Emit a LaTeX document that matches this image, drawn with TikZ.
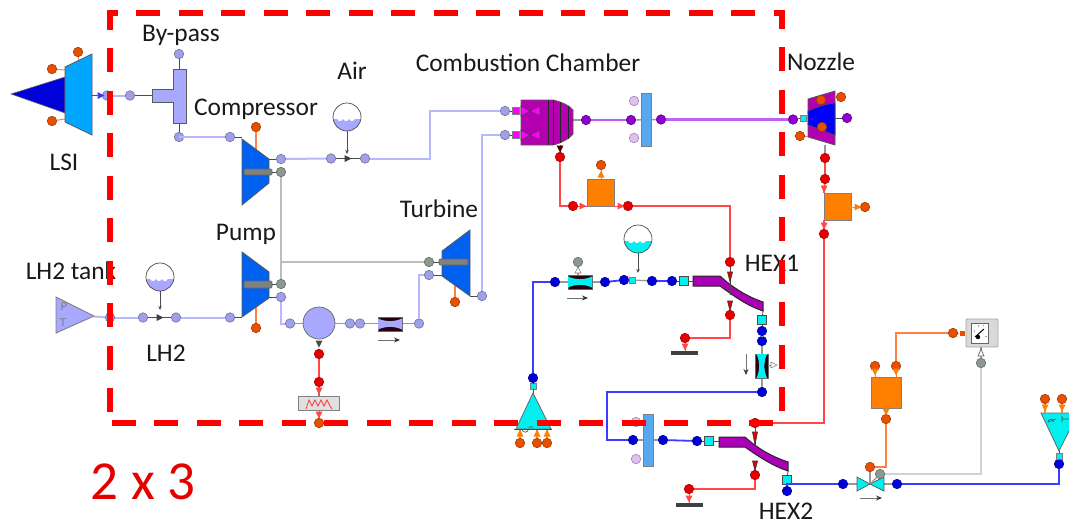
\documentclass[tikz,border=0pt]{standalone}
\usepackage{fontspec}
\setmainfont{Carlito}
\usetikzlibrary{arrows.meta}
\definecolor{lil}{HTML}{B8B8FF}
\definecolor{lilp}{HTML}{A0A0E8}
\definecolor{blu}{HTML}{3C3CFF}
\definecolor{blup}{HTML}{0000D8}
\definecolor{rd}{HTML}{FF4848}
\definecolor{rdp}{HTML}{E80000}
\definecolor{org}{HTML}{FF8044}
\definecolor{orgp}{HTML}{E85000}
\definecolor{pur}{HTML}{C060F0}
\definecolor{purp}{HTML}{8C00D0}
\definecolor{gry}{HTML}{B8C0BC}
\definecolor{gryp}{HTML}{8C9890}
\definecolor{pale}{HTML}{E0C0F0}
\definecolor{mag}{HTML}{B400B0}
\definecolor{hot}{HTML}{FF00FF}
\definecolor{cy}{HTML}{00F0F0}
\definecolor{turb}{HTML}{0060F0}
\definecolor{tank}{HTML}{A8A8FF}
\definecolor{box}{HTML}{FF8000}
\definecolor{panel}{HTML}{58A8F0}
\definecolor{hexc}{HTML}{AC00B8}
\tikzset{
  prt/.style={circle,draw=#1!70!black,line width=0.6,fill=#1,minimum size=9.5,inner sep=0},
  sqc/.style={rectangle,draw=black!70,line width=0.7,fill=cy,minimum size=9,inner sep=0},
  sqs/.style={rectangle,draw=black!50,line width=0.5,fill=cy,minimum size=6,inner sep=0},
  sqm/.style={rectangle,draw=black!50,line width=0.5,fill=hot,minimum size=7,inner sep=0},
  stub/.style={draw=black!70,line width=0.8},
  gstub/.style={draw=black!40,line width=1.3},
  lline/.style={draw=lil,line width=2},
  bline/.style={draw=blu,line width=1.8},
  rline/.style={draw=rd,line width=1.7},
  oline/.style={draw=org,line width=1.6},
  pline/.style={draw=pur,line width=2.2},
  gline/.style={draw=gry,line width=1.8},
  comp/.style={draw=black!65,line width=0.8},
  flowarrow/.style={draw=black!55,line width=1,-{Stealth[length=6pt,width=5pt,color=black!80]}},
  lab/.style={font=\fontsize{25.4}{27}\selectfont,text=black!90,inner sep=0},
  redd/.style={draw=red,line width=6,dash pattern=on 24pt off 18.5pt},
}
\newcommand{\Pt}[4]{\node[prt=#1] (#2) at (#3,#4) {};}
\newcommand{\Tr}[4]{\fill[#4,rotate around={#3:(#1,#2)}] (#1-3.5,#2-3.5)--(#1+3.5,#2)--(#1-3.5,#2+3.5)--cycle;}
\newcommand{\Sens}[4]{%
  \begin{scope}\clip (#1,#2) circle (14);
  \fill[#3] (#1-15,#2+2) -- (#1-10,#2+2) .. controls (#1-8,#2+5) and (#1-6,#2+5) .. (#1-4,#2+2) .. controls (#1-2,#2+5) and (#1,#2+5) .. (#1+2,#2+2) .. controls (#1+4,#2+5) and (#1+6,#2+5) .. (#1+8,#2+2) -- (#1+15,#2+2) -- (#1+15,#2+15) -- (#1-15,#2+15) -- cycle;
  \end{scope}
  \draw[black!70,line width=0.7] (#1,#2) circle (14);
  \coordinate (#4) at (#1,#2+14);
}
\begin{document}
\begin{tikzpicture}[x=1pt,y=-1pt]
\path[use as bounding box,clip] (0,0) rectangle (1069,523);
\fill[white] (0,0) rectangle (1069,523);

% ---------- ports ----------
\Pt{orgp}{lsit}{78}{52}\Pt{orgp}{lsia}{52}{69}\Pt{orgp}{lsib}{52}{121}
\Pt{lilp}{lsiout}{107}{95.5}\Pt{lilp}{bpin}{130}{95.5}
\Pt{lilp}{bptop}{179}{54}\Pt{lilp}{bpbot}{179}{137}
\Pt{lilp}{cin}{230}{137}\Pt{lilp}{cout}{281}{159}\Pt{gryp}{cshaft}{281}{172}\Pt{orgp}{cq}{256}{127}
\Pt{lilp}{ain}{331}{158.5}\Pt{lilp}{aout}{365}{158.5}
\Pt{lilp}{cca}{505}{111}\Pt{lilp}{ccb}{505}{135}
\Pt{lilp}{tout}{482}{296}\Pt{gryp}{tshaft}{429}{262}\Pt{lilp}{tin}{429}{275}\Pt{orgp}{tq}{455}{302}
\Pt{gryp}{pshaft}{281}{284}\Pt{lilp}{pout}{281}{297}\Pt{orgp}{pq}{256}{328}\Pt{lilp}{pin}{230}{317.5}
\Pt{lilp}{lout}{176}{317.5}\Pt{lilp}{lin}{143}{317.5}\Pt{lilp}{tkout}{110}{317.5}
\Pt{lilp}{hin}{290}{323.5}\Pt{lilp}{hout}{350}{323.5}\Pt{lilp}{vin}{360}{323.5}\Pt{lilp}{vout}{419}{323.5}
\Pt{rdp}{hq}{319}{354}\Pt{rdp}{heat}{319}{382}\Pt{orgp}{heatq}{319}{423}
\Pt{purp}{ccout}{586}{120}\Pt{purp}{mixin}{631}{120}\Pt{purp}{mixout}{661}{119.5}\Pt{purp}{nin}{793}{119.5}\Pt{purp}{nout}{847}{118}
\Pt{pale}{mixa}{634}{101}\Pt{pale}{mixb}{634}{138}
\Pt{rdp}{ccq}{560}{157}\Pt{rdp}{ba}{573}{206}\Pt{rdp}{bb}{628}{206}\Pt{orgp}{bq}{601}{165}
\Pt{orgp}{nb}{841}{97}\Pt{orgp}{nd}{800}{136}
\Pt{rdp}{nq}{825}{158}\Pt{rdp}{ne}{825}{179}\Pt{rdp}{nf}{824}{234}\Pt{orgp}{ng}{865}{207}
\Pt{rdp}{hxa}{730}{262}\Pt{rdp}{hxb}{730}{315}\Pt{rdp}{gnda}{685}{338}
\Pt{blup}{hxin}{672}{281}\Pt{blup}{sout}{652}{281}\Pt{blup}{sin}{624}{280}\Pt{blup}{fout}{605}{282}\Pt{blup}{fin}{555}{282}
\Pt{gryp}{fq}{578}{262}
\Pt{blup}{ptop}{533}{378}\Pt{orgp}{pa}{520}{443}\Pt{orgp}{pbb}{537}{443}\Pt{orgp}{pc}{547}{443}
\Pt{blup}{hxo}{762}{331}\Pt{blup}{vvin}{762}{341}\Pt{blup}{vvout}{762}{392}
\Pt{blup}{m2in}{633}{440}\Pt{blup}{m2out}{663}{440}\Pt{blup}{h2in}{697}{441}
\Pt{pale}{m2a}{636}{422}\Pt{pale}{m2b}{636}{459}
\Pt{rdp}{h2q}{755}{423}\Pt{rdp}{h2r}{755}{475}\Pt{rdp}{gndb}{689}{489}
\Pt{blup}{h2o}{787}{491}\Pt{blup}{tvin}{843}{484}\Pt{blup}{tvout}{897}{484}\Pt{blup}{endp}{1059}{464}
\Pt{orgp}{tvq}{870}{467}
\Pt{orgp}{ctl}{886}{419}\Pt{orgp}{cta}{875}{366}\Pt{orgp}{ctb}{896}{366}
\Pt{orgp}{gin}{953}{333}\Pt{gryp}{gq}{981}{363}
\Pt{orgp}{ea}{1045}{399}\Pt{orgp}{eb}{1062}{399}\Pt{orgp}{ec}{1079}{399}

% ---------- named squares ----------
\node[sqm] (sqa) at (516,111) {};
\node[sqm] (sqb) at (516,135) {};
\node[sqs] (sqn) at (803,118) {};
\node[sqs] (sqs1) at (632,280) {};
\node[sqc] (sqh1) at (684,281) {};
\node[sqc] (sqh1b) at (762,320) {};
\node[sqs] (sqp) at (533,386) {};
\node[sqc] (sqh2) at (709,441) {};
\node[sqc] (sqh2b) at (787,480) {};
\node[sqs] (sqe) at (1059,456) {};
\node[rectangle,fill=orgp,minimum size=5,inner sep=0] (sqg) at (962,333) {};

% ---------- coordinates on components ----------
\coordinate (bypL) at (152,95.5);
\coordinate (cpL) at (242,137);
\coordinate (cpR) at (269,159);
\coordinate (cpS) at (272,172);
\coordinate (ppL) at (242,317.5);
\coordinate (ppR) at (269,297);
\coordinate (ppS) at (272,284);
\coordinate (tbL) at (442,275);
\coordinate (tbS) at (439,262);
\coordinate (tbR) at (470,296);
\coordinate (bigL) at (303,323.5);
\coordinate (bigR) at (335,323.5);
\coordinate (ccR) at (573,120);
\coordinate (heatT) at (319,396);
\coordinate (turn1) at (430,158.5);
\coordinate (turn2) at (607,440);
\coordinate (tee) at (281,262);
\coordinate (tvc) at (870,484);

% ---------- connectors ----------
\draw[lline] (lsiout) -- (bpin);
\draw[stub] (bpin) -- (bypL);
\draw[stub] (bptop) -- (179,69);
\draw[stub] (bpbot) -- (179,123);
\draw[lline] (bpbot) |- (cin);
\draw[stub] (cin) -- (cpL);
\draw[stub] (cout) -- (cpR);
\draw[lline] (cout) -- (ain);
\draw[stub] (ain) -- (aout);
\draw[lline] (aout) -- (turn1) |- (cca);
\draw[lline] (tout) |- (ccb);
\draw[stub] (tout) -- (tbR);
\draw[stub] (tin) -- (tbL);
\draw[gline] (cshaft) -- (pshaft);
\draw[gline] (tee) -- (tshaft);
\draw[lline] (pout) |- (hin);
\draw[stub] (pout) -- (ppR);
\draw[stub] (pin) -- (ppL);
\draw[lline] (lout) -- (pin);
\draw[stub] (lin) -- (lout);
\draw[lline] (tkout) -- (lin);
\draw[lline] (94,316.5) -- (tkout);
\draw[gstub] (hin) -- (bigL);
\draw[gstub] (hout) -- (bigR);
\draw[gstub] (hout) -- (vin);
\draw[gstub] (vin) -- (vout);
\draw[lline] (vout) |- (tin);
\draw[rline] (hq) -- (heat);
\draw[gstub] (ccout) -- (ccR);
\draw[pline] (ccout) -- (mixin);
\draw[pline] (mixout) -- (nin);
\draw[gstub] (mixin) -- (mixout);
\draw[stub] (sqa) -- (cca);
\draw[stub] (sqb) -- (ccb);
\draw[stub] (nin) -- (sqn);
\draw[stub] (nout) -- (835,118);
\draw[rline] (ccq) |- (ba);
\draw[rline] (bb) -| (hxa);
\draw[rline] (hxb) |- (gnda);
\draw[rline] (nq) -- (ne);
\draw[gstub,line width=1.6] (nq) -- (825,145);
\draw[rline] (nf) |- (h2q);
\draw[rline] (h2r) |- (gndb);
\draw[bline] (fin) -| (ptop);
\draw[gstub] (fin) -- (fout);
\draw[bline] (fout) -- (sin);
\draw[gstub] (sin) -- (sqs1) -- (sout);
\draw[bline] (sout) -- (hxin);
\draw[stub] (hxin) -- (sqh1);
\draw[gstub] (hxo) -- (vvin);
\draw[gstub] (vvin) -- (vvout);
\draw[bline] (vvout) -| (turn2) -- (m2in);
\draw[gstub] (m2in) -- (m2out);
\draw[bline] (m2out) -- (h2in);
\draw[stub] (h2in) -- (sqh2);
\draw[stub] (sqh1b) -- (hxo);
\draw[stub] (ptop) -- (sqp);
\draw[bline] (h2o) |- (tvin);
\draw[stub] (h2o) -- (sqh2b);
\draw[gstub] (tvin) -- (tvout);
\draw[bline] (tvout) -| (endp);
\draw[stub] (endp) -- (sqe);
\draw[oline] (tvq) -| (ctl);
\draw[gstub] (tvq) -- (tvc);
\draw[oline] (ctb) |- (gin);
\draw[oline,line width=1] (lsit) -- (78,62);
\draw[oline,line width=1] (lsia) -- (65,70);
\draw[oline,line width=1] (lsib) -- (65,119);
\draw[oline] (cq) -- (256,150);
\draw[oline] (tq) -- (455,285);
\draw[oline] (pq) -- (256,306);

% ---------- LSI ----------
\path[fill=blup,draw=black!60,line width=.6] (11,94)--(65,77)--(65,113)--cycle;
\path[fill={rgb,255:red,0;green,166;blue,255},comp] (65,67)--(92,54)--(92,135)--(65,122)--cycle;
\draw[blu,line width=1.5] (92,95.5)--(lsiout);
\Tr{101}{95.5}{0}{blu}

% ---------- by-pass ----------
\path[fill=tank,comp] (173,69)--(186,69)--(186,123)--(173,123)--(173,102)--(152,102)--(152,89)--(173,89)--cycle;

% ---------- machines ----------
\path[fill=turb,comp] (242,139)--(269,159)--(269,183)--(242,205)--cycle;
\path[fill=gray,draw=black!60,line width=.6,rounded corners=1] (244,169) rectangle (272,175);
\path[fill=turb,comp] (242,252)--(269,272)--(269,298)--(242,317)--cycle;
\path[fill=gray,draw=black!60,line width=.6,rounded corners=1] (244,281) rectangle (272,288);
\path[fill=turb,comp] (442,251)--(470,230)--(470,296)--(442,276)--cycle;
\path[fill=gray,draw=black!60,line width=.6,rounded corners=1] (439,259) rectangle (468,265);
\draw[black!70,line width=.8] (tshaft) -- (tbS);
\draw[black!70,line width=.8] (cshaft) -- (cpS);
\draw[black!70,line width=.8] (pshaft) -- (ppS);

% ---------- sensors ----------
\Sens{347}{117}{tank}{sa}
\draw[stub,-{Stealth[length=4pt,width=3.5pt]}] (sa) -- (347,154);
\Tr{348}{158.5}{0}{black!75}
\Sens{160}{277}{tank}{sb}
\draw[stub,-{Stealth[length=4pt,width=3.5pt]}] (sb) -- (160,310);
\Tr{160}{317.5}{0}{black!75}
\Sens{638}{239}{cy}{sc}
\draw[stub,-{Stealth[length=4pt,width=3.5pt]}] (sc) -- (638,273);

% ---------- tank ----------
\path[fill=tank,draw=gray,line width=.9] (56,297)--(94,316)--(56,333)--cycle;
\node[font=\sffamily\fontsize{11}{11}\selectfont,text=black!55,inner sep=0] (tkP) at (64,307) {P};
\node[font=\sffamily\fontsize{11}{11}\selectfont,text=black!55,inner sep=0] (tkT) at (63,323) {T};

% ---------- heater + big circle ----------
\node[circle,draw=black!60,line width=.7,fill=tank,minimum size=32,inner sep=0] (big) at (319,323) {};
\Tr{319}{344}{-90}{black!70}
\draw[rline] (heat) -- (heatT);
\draw[rline,line width=1] (heatq) -- (319,410);
\path[fill=black!12,draw=gray,line width=.8] (298,396) rectangle (339,410);
\draw[red!80,line width=.7] (306,409)--(309,400)--(312,406)--(315,400)--(318,406)--(321,400)--(324,406)--(327,400)--(330,406)--(332,409);
\Tr{319}{391}{-90}{rd}
\Tr{319}{415}{-90}{rd}

% ---------- valve lilac ----------
\path[fill=black!80!purple,draw=black!60,line width=.5] (378,317) rectangle (402,331);
\path[fill=tank] (378,318.5) .. controls (386,322) and (394,322) .. (402,318.5) -- (402,329.5) .. controls (394,326) and (386,326) .. (378,329.5) -- cycle;
\draw[flowarrow] (378,340) -- (400,340);

% ---------- combustion chamber ----------
\path[fill=mag,comp] (521,100)--(553,100) .. controls (562,102) and (570,106) .. (573,110) -- (573,134) .. controls (570,138) and (562,143) .. (553,145) -- (521,145) -- cycle;
\draw[black!85,line width=.7] (548,100)--(548,145) (553,100)--(553,145) (560,102)--(560,143) (568,106)--(568,139);
\foreach \yy in {111,135}{
  \path[fill=hot,draw=black!75,line width=.6] (521,\yy-5)--(530,\yy)--(521,\yy+5)--cycle;
  \path[fill=hot,draw=black!75,line width=.6] (540,\yy-5)--(530,\yy)--(540,\yy+5)--cycle;
}
\draw[stub] (560,145)--(ccq);
\Tr{560}{149}{-90}{black!70!red}

% ---------- mixers ----------
\path[fill=panel,draw=black!50,line width=.8] (641,93) rectangle (651,146);
\path[fill=panel,draw=black!50,line width=.8] (643,414) rectangle (653,466);

% ---------- orange box 1 ----------
\path[fill=box,draw=black!50,line width=.8] (587,179) rectangle (614,206);
\draw[org,line width=1] (601,179) -- (bq);
\Tr{601}{174}{90}{orange}
\draw[rd,line width=1] (ba) -- (587,206);
\Tr{583}{206}{0}{rd}
\draw[rd,line width=1] (614,206) -- (bb);
\Tr{621}{206}{0}{rd}

% ---------- nozzle ----------
\path[fill=mag,comp] (808,99)--(835,91)--(835,145)--(808,137)--cycle;
\path[fill=blue,draw=black!70,line width=.7] (808,111) .. controls (817,107) and (826,104) .. (835,103) -- (835,135) .. controls (826,132) and (817,128) .. (808,125) -- cycle;
\draw[black!70,line width=.7] (821,95)--(821,106) (821,130)--(821,141);
\draw[oline,line width=1] (nd) -- (808,136);
\Pt{orgp}{na}{821}{100}\Pt{orgp}{nc}{822}{127}

% ---------- nozzle orange box ----------
\path[fill=box,draw=black!50,line width=.8] (824,193) rectangle (851,220);
\draw[rline] (ne) -- (824,193);
\draw[rline] (824,220) -- (nf);
\Tr{824}{189}{-90}{rd}
\Tr{824}{226}{-90}{rd}
\draw[org,line width=1] (851,207) -- (ng);
\Tr{858}{207}{0}{orange}

% ---------- HEX 1 ----------
\path[fill=hexc,draw=black!85,line width=1] (693,276)--(720,276) .. controls (733,288) and (748,297) .. (763,302) -- (763,311) .. controls (748,306) and (735,297) .. (720,286) --(693,286)--cycle;
\draw[stub] (sqh1) -- (693,281);
\draw[stub] (763,311) -- (sqh1b);
\draw[stub] (hxa)--(730,295);
\path[fill=rdp,draw=black!80,line width=.6] (727.5,272)--(732.5,272)--(730,282)--cycle;
\path[fill=rdp,draw=black!80,line width=.6] (727.5,301)--(732.5,301)--(730,311)--cycle;
\draw[rd,line width=1] (gnda) -- (685,351);
\Tr{685}{347}{-90}{rd}
\node[rectangle,fill=black!75,minimum width=27,minimum height=4,inner sep=0] (gnd1) at (684.5,353) {};

% ---------- flow valve top ----------
\path[fill=black!80!purple,draw=black!60,line width=.5] (568,275) rectangle (592,289);
\path[fill=cy] (568,276.5) .. controls (576,280) and (584,280) .. (592,276.5) -- (592,287.5) .. controls (584,284) and (576,284) .. (568,287.5) -- cycle;
\draw[gstub] (fq) -- (578,275);
\path[fill=white,draw=gray,line width=.6] (578,267)--(581,273)--(575,273)--cycle;
\draw[flowarrow] (567,298) -- (588,298);

% ---------- pump cyan ----------
\path[fill=cy,draw=black!60,line width=.8] (533,393)--(516,429)--(551,429)--cycle;
\draw[black!70,line width=.8] (514,429)--(552,429);
\draw[black!70,line width=.6] (522,429) arc (180:0:3.2) (528.5,427)--(533,427);
\draw[stub] (sqp) -- (533,393);
\draw[org,line width=1.2] (pa) -- (520,430);
\draw[org,line width=1.2] (pbb) -- (537,430);
\draw[org,line width=1.2] (pc) -- (547,430);
\Tr{520}{433}{90}{orange}\Tr{537}{433}{90}{orange}\Tr{547}{433}{90}{orange}

% ---------- vertical valve ----------
\path[fill=black!80!purple,draw=black!60,line width=.5] (755,354) rectangle (768,378);
\path[fill=cy] (756.5,354) .. controls (760,362) and (760,370) .. (756.5,378) -- (767,378) .. controls (763.5,370) and (763.5,362) .. (767,354) -- cycle;
\draw[gray,line width=.8] (768,365)--(773,365);
\path[fill=white,draw=gray,line width=.6] (771,362)--(771,368)--(777,365)--cycle;
\draw[flowarrow] (746,354) -- (746,375);

% ---------- HEX 2 ----------
\path[fill=hexc,draw=black!85,line width=1] (719,437)--(745,437) .. controls (758,449) and (773,457) .. (788,462) -- (788,471) .. controls (773,466) and (759,457) .. (745,447) --(719,447)--cycle;
\draw[stub] (sqh2) -- (719,441);
\draw[stub] (788,471) -- (sqh2b);
\draw[stub] (h2q)--(755,452);
\path[fill=rdp,draw=black!80,line width=.6] (752.5,432)--(757.5,432)--(755,445)--cycle;
\path[fill=rdp,draw=black!80,line width=.6] (752.5,461)--(757.5,461)--(755,471)--cycle;
\draw[rd,line width=1] (gndb) -- (689,503);
\Tr{689}{499}{-90}{rd}
\node[rectangle,fill=black!75,minimum width=27,minimum height=4,inner sep=0] (gnd2) at (689.5,505) {};

% ---------- end pump ----------
\path[fill=cy,draw=black!60,line width=.8] (1041,413)--(1078,413)--(1059,451)--cycle;
\draw[stub] (sqe) -- (1059,451);
\draw[org,line width=1.2] (ea) -- (1045,413);
\draw[org,line width=1.2] (eb) -- (1062,413);
\Tr{1045}{408}{-90}{orange}\Tr{1062}{408}{-90}{orange}
\draw[black!70,line width=.6] (1048,422) arc (180:360:2.8) (1048,422)--(1056,419) (1062,419)--(1072,419) (1062,416)--(1062,422);

% ---------- throttle valve ----------
\path[fill=cy,draw=black!65,line width=.7] (857,477)--(870,484)--(857,491)--cycle;
\path[fill=cy,draw=black!65,line width=.7] (884,477)--(870,484)--(884,491)--cycle;
\draw[flowarrow] (860,498) -- (882,498);
\Pt{gryp}{tvm}{880}{474}
\draw[gline,draw=gray!35] (tvm) -| (gq);
\draw[gstub] (tvm) -- (tvc);

% ---------- control box ----------
\path[fill=box,draw=black!50,line width=.8] (871,377) rectangle (901,408);
\draw[org,line width=1] (cta) -- (875,377);
\draw[org,line width=1] (ctb) -- (896,377);
\draw[org,line width=1] (886,408) -- (ctl);
\Tr{875}{372}{-90}{orange}\Tr{896}{372}{-90}{orange}\Tr{886}{412}{-90}{orange}

% ---------- gauge ----------
\path[fill=black!15,draw=gray!70,line width=.9,rounded corners=1] (966,319) rectangle (998,347);
\path[fill=white,draw=black!60,line width=.7] (971,323) rectangle (988,343);
\draw[black,line width=1] (975,337)--(984,329);
\fill[black] (978,337) circle (2.2);
\draw[black!50,line width=.5] (974,332)--(975,330) (978,327)--(979,325) (983,326)--(984,325) (985,336)--(987,337);
\draw[org,line width=1] (gin) -- (sqg);
\draw[gstub] (gq) -- (981,347);
\path[fill=white,draw=black!60,line width=.7] (981,349)--(984,356)--(978,356)--cycle;

% ---------- labels ----------
\node[lab,anchor=base] (lby) at (181,41) {By-pass};
\node[lab,anchor=base] (llsi) at (64,170) {LSI};
\node[lab,anchor=base] (lcomp) at (256,115) {Compressor};
\node[lab,anchor=base] (lair) at (352,79) {Air};
\node[lab,anchor=base] (lcc) at (528,71) {Combustion Chamber};
\node[lab,anchor=base] (lnz) at (821,70) {Nozzle};
\node[lab,anchor=base] (ltb) at (439,217) {Turbine};
\node[lab,anchor=base] (lpm) at (246,240) {Pump};
\node[lab,anchor=base] (ltk) at (71,279) {LH2 tank};
\node[lab,anchor=base] (llh) at (166,361) {LH2};
\node[lab,anchor=base] (lh1) at (772,271) {HEX1};
\node[lab,anchor=base] (lh2) at (786,519.5) {HEX2};
\node[anchor=base,text=red!90!black,inner sep=0,font=\fontsize{55}{55}\selectfont] (lnum) at (143,499) {2 x 3};

% ---------- red dashed boundary ----------
\draw[redd] (110,412) -- (110,13) -- (782,13) -- (782,414);
\draw[redd] (773,423) -- (110,423);
\end{tikzpicture}
\end{document}
